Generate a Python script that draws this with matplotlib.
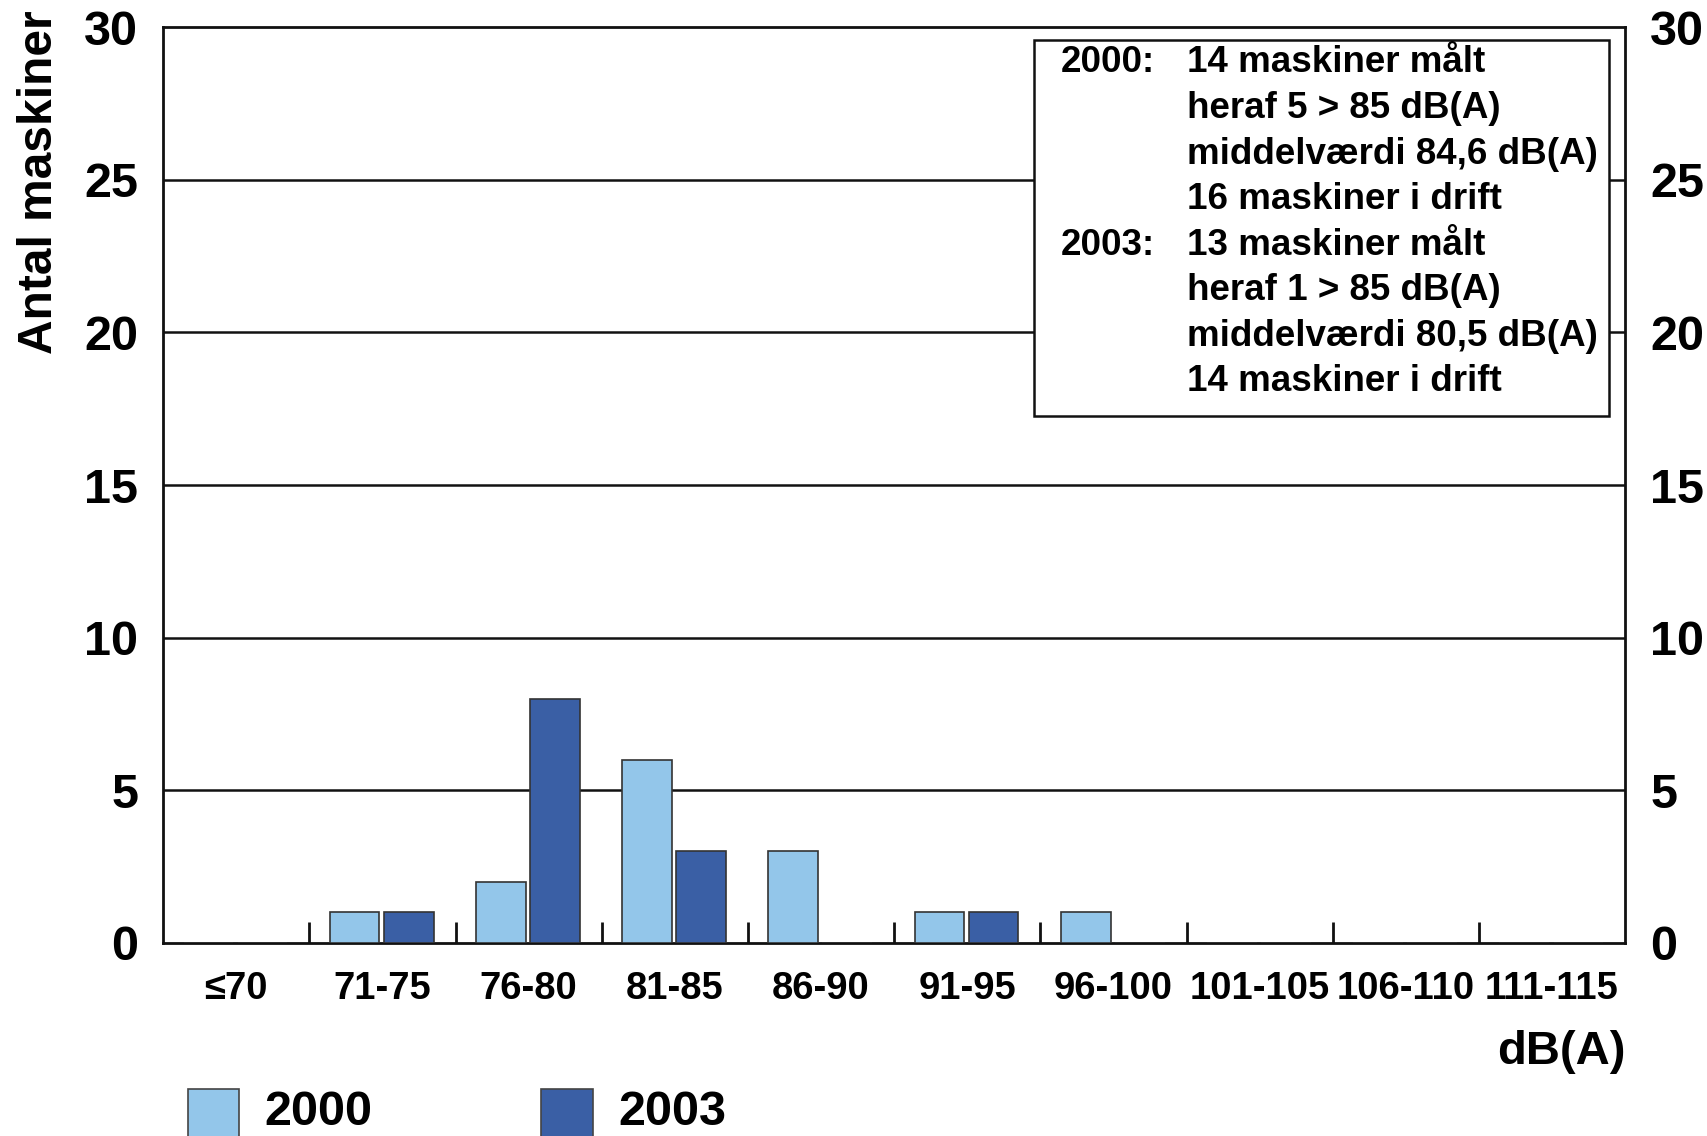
import numpy as np
import matplotlib
matplotlib.use("Agg")
import matplotlib.pyplot as plt
from matplotlib.patches import Rectangle

categories = ["≤70", "71-75", "76-80", "81-85", "86-90", "91-95",
              "96-100", "101-105", "106-110", "111-115"]
count_2000 = [0, 1, 2, 6, 3, 1, 1, 0, 0, 0]
count_2003 = [0, 1, 8, 3, 0, 1, 0, 0, 0, 0]
yticks = [0, 5, 10, 15, 20, 25, 30]
box_years = ["2000:", "2003:"]
box_lines = ["14 maskiner målt", "heraf 5 > 85 dB(A)",
             "middelværdi 84,6 dB(A)", "16 maskiner i drift",
             "13 maskiner målt", "heraf 1 > 85 dB(A)",
             "middelværdi 80,5 dB(A)", "14 maskiner i drift"]

light = "#93c6ea"
dark = "#3a5fa5"

plt.rcParams['font.family'] = ['Liberation Sans', 'DejaVu Sans']
plt.rcParams['font.weight'] = 'bold'

fig = plt.figure(figsize=(17.08, 11.36), dpi=100)
ax = fig.add_axes([0.0955, 0.170, 0.856, 0.806])

x = np.arange(len(categories))
w = 0.34
ax.bar(x + 0.31, count_2000, w, color=light, edgecolor="#333333", linewidth=1.2, zorder=3)
ax.bar(x + 0.68, count_2003, w, color=dark, edgecolor="#333333", linewidth=1.2, zorder=3)

ax.set_xlim(0, len(categories))
ax.set_ylim(0, 30)

for y in yticks[1:-1]:
    ax.axhline(y, color="#111111", linewidth=1.8, zorder=1)

for s in ax.spines.values():
    s.set_linewidth(2)
    s.set_color("#111111")

ax.set_xticks(x + 0.5)
ax.set_xticklabels(categories, fontsize=27.5, fontweight='bold')
ax.tick_params(axis='x', which='major', length=0, pad=20)
ax.set_xticks(np.arange(1, len(categories)), minor=True)
ax.tick_params(axis='x', which='minor', direction='in', length=15, width=2, color="#111111")

ax.set_yticks(yticks)
ax.set_yticklabels([str(v) for v in yticks], fontsize=35, fontweight='bold')
ax.tick_params(axis='y', length=0, pad=18, labelright=True)

ax.set_ylabel("Antal maskiner", fontsize=34.5, fontweight='bold')
ax.yaxis.set_label_coords(-0.069, 1.018)
ax.yaxis.label.set_horizontalalignment('right')

ax.text(1.0, -0.095, "dB(A)", transform=ax.transAxes, ha='right', va='top',
        fontsize=34, fontweight='bold')

# info box
ax.add_patch(Rectangle((0.596, 0.575), 0.393, 0.411, transform=ax.transAxes,
                       facecolor='white', edgecolor='#111111', linewidth=1.8, zorder=4))
line_y = np.linspace(0.961, 0.613, len(box_lines))
for i, txt in enumerate(box_lines):
    ax.text(0.700, line_y[i], txt, transform=ax.transAxes, ha='left', va='center',
            fontsize=26.5, fontweight='bold', zorder=5)
ax.text(0.614, line_y[0], box_years[0], transform=ax.transAxes, ha='left', va='center',
        fontsize=26.5, fontweight='bold', zorder=5)
ax.text(0.614, line_y[4], box_years[1], transform=ax.transAxes, ha='left', va='center',
        fontsize=26.5, fontweight='bold', zorder=5)

# legend
leg_items = [(0.110, light, "2000"), (0.317, dark, "2003")]
for lx, col, lab in leg_items:
    fig.patches.append(Rectangle((lx, -0.01), 0.030, 0.051, transform=fig.transFigure,
                                 facecolor=col, edgecolor='#444444', linewidth=1.2))
    fig.text(lx + 0.045, 0.001, lab, fontsize=35, fontweight='bold', va='bottom', ha='left')

fig.savefig("out.png", dpi=100)
